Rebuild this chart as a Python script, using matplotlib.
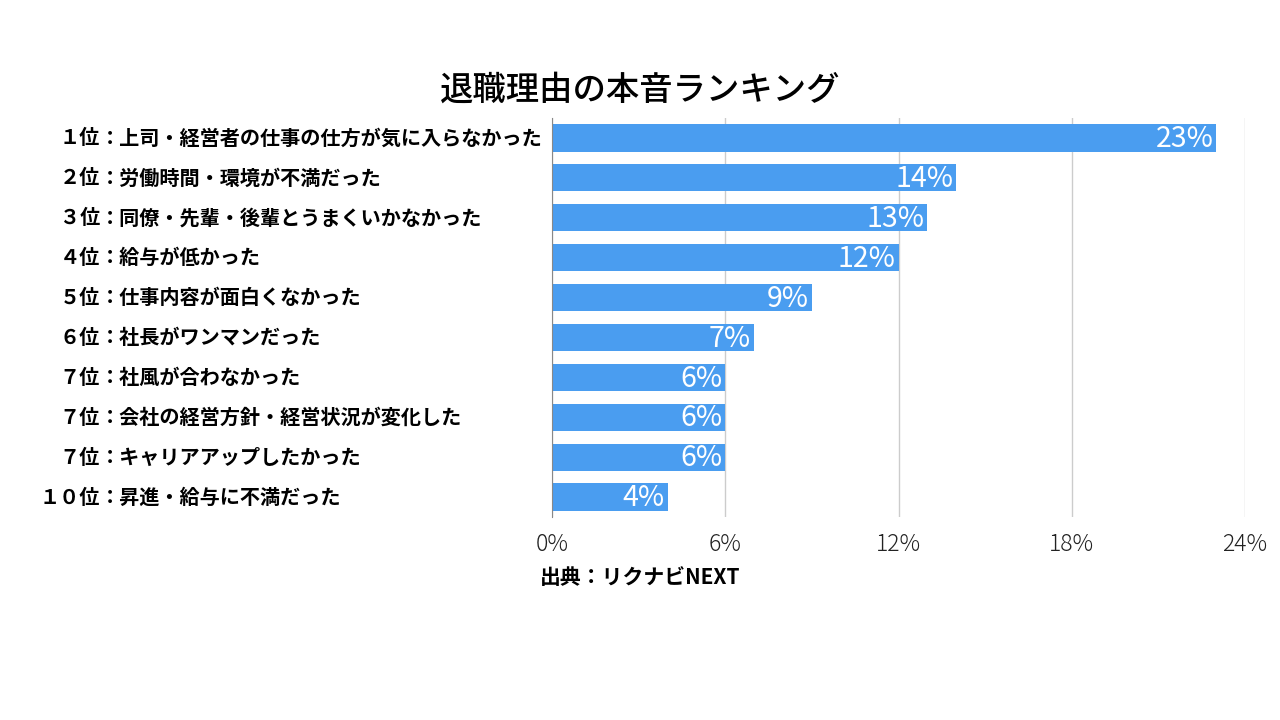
import matplotlib.pyplot as plt
from matplotlib.transforms import blended_transform_factory

plt.rcParams["font.family"] = ["Noto Sans CJK JP", "DejaVu Sans"]

## -----------------------------------------------------------------------------
# Data
ranks = ["１", "２", "３", "４", "５", "６", "７", "７", "７", "１０"]
reasons = [
    "上司・経営者の仕事の仕方が気に入らなかった",
    "労働時間・環境が不満だった",
    "同僚・先輩・後輩とうまくいかなかった",
    "給与が低かった",
    "仕事内容が面白くなかった",
    "社長がワンマンだった",
    "社風が合わなかった",
    "会社の経営方針・経営状況が変化した",
    "キャリアアップしたかった",
    "昇進・給与に不満だった",
]
values = [23, 14, 13, 12, 9, 7, 6, 6, 6, 4]
xticks = [0, 6, 12, 18, 24]

bar_color = "#4A9DF0"

## -----------------------------------------------------------------------------
# Plot
fig = plt.figure(figsize=(12.8, 7.2), dpi=100)
ax = fig.add_axes([552/1280, 1-517/720, (1245-552)/1280, (517-118)/720])

ypos = list(range(len(values)))
ax.barh(ypos, values, height=0.68, color=bar_color, zorder=3)
ax.set_ylim(len(values)-0.5, -0.5)
ax.set_xlim(0, 24)

for y, v in zip(ypos, values):
    ax.text(v-0.1, y+0.03, f"{v}%", color="white", fontsize=20.5,
            fontweight="normal", ha="right", va="center", zorder=4)

# category labels (rank right aligned, reason left aligned)
trans = blended_transform_factory(fig.transFigure, ax.transData)
for y, r, reason in zip(ypos, ranks, reasons):
    ax.text(100/1280, y, r+"位", transform=trans, ha="right", va="center",
            fontsize=14.5, fontweight="bold", color="black")
    ax.text(100/1280, y, "："+reason, transform=trans, ha="left", va="center",
            fontsize=14.5, fontweight="bold", color="black")

ax.set_yticks([])
ax.set_xticks(xticks)
ax.set_xticklabels([f"{t}%" for t in xticks], fontsize=16.5,
                   fontweight="light", color="#222222")
ax.tick_params(axis="x", length=0, pad=11)
ax.grid(axis="x", color="#cccccc", linewidth=1, zorder=0)
for s in ["top", "right", "bottom"]:
    ax.spines[s].set_visible(False)
ax.spines["left"].set_color("#888888")
ax.spines["left"].set_zorder(5)

fig.text(640/1280, 1-90/720, "退職理由の本音ランキング", ha="center", va="center",
         fontsize=24, fontweight="medium", color="black")
fig.text(540/1280, 1-577/720, "出典：リクナビNEXT", ha="left", va="center",
         fontsize=15, fontweight="bold", color="black")

plt.savefig("out.png", dpi=100)
